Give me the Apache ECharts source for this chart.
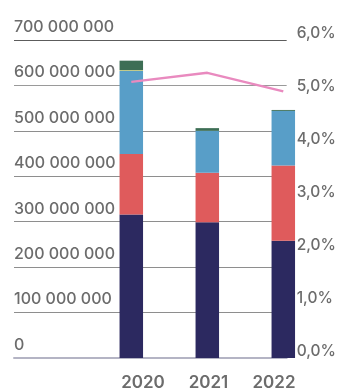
<!DOCTYPE html>
<html>
<head>
<meta charset="utf-8">
<script src="https://cdn.jsdelivr.net/npm/echarts@6/dist/echarts.min.js"></script>
<style>
  html, body { margin: 0; padding: 0; background: #ffffff; }
  #chart { width: 339px; height: 391px; }
</style>
</head>
<body>
<div id="chart"></div>
<script>
// Years shown on the category axis
const years = ['2020', '2021', '2022'];

// Stacked bar components (absolute amounts)
const segNavy   = [316000000, 299000000, 258000000];
const segRed    = [133000000, 109000000, 166000000];
const segBlue   = [183000000,  92000000, 120000000];
const segYellow = [  1500000,         0,         0];
const segGreen  = [ 21000000,   6000000,   2000000];

// Rate line, in percent (right axis)
const ratePct = [5.21, 5.38, 5.03];

// Axis ticks
const leftTicks  = [0, 100000000, 200000000, 300000000, 400000000, 500000000, 600000000, 700000000];
const rightTicks = [0, 1, 2, 3, 4, 5, 6];

const FONT = 'Inter';
const LABEL_GREY = '#6c6c6c';

const fmtAmount = v => String(Math.round(v)).replace(/\B(?=(\d{3})+(?!\d))/g, ' ');
const fmtPct = v => v.toFixed(1).replace('.', ',') + '%';

const leftMax = leftTicks[leftTicks.length - 1];
const rightMax = rightTicks[rightTicks.length - 1];

const chart = echarts.init(document.getElementById('chart'), null, { renderer: 'canvas' });

const gridV = { top: 40, bottom: 33 };

const barSeries = (name, data, color) => ({
  name, type: 'bar', stack: 'total', data,
  xAxisIndex: 1, yAxisIndex: 2,
  barWidth: 23.5,
  itemStyle: { color },
  emphasis: { disabled: true }
});

chart.setOption({
  animation: false,
  grid: [
    // Frame for the value axes and horizontal rules
    { left: 14, right: 44, top: gridV.top, bottom: gridV.bottom },
    // Bars and line
    { left: 93.3, right: 17.7, top: gridV.top, bottom: gridV.bottom },
    // Year labels
    { left: 110.25, right: 32.25, top: gridV.top, bottom: gridV.bottom }
  ],
  xAxis: [
    {
      gridIndex: 0, type: 'value', min: 0, max: 1, show: true,
      axisLine: { show: true, onZero: false, lineStyle: { color: '#b4b4c4', width: 2 } },
      axisTick: { show: false }, axisLabel: { show: false }, splitLine: { show: false }
    },
    {
      gridIndex: 1, type: 'category', data: years, boundaryGap: true,
      axisLine: { show: false }, axisTick: { show: false }, axisLabel: { show: false }
    },
    {
      gridIndex: 2, type: 'category', data: years, boundaryGap: true,
      axisLine: { show: false }, axisTick: { show: false },
      axisLabel: {
        show: true, margin: 17, color: LABEL_GREY,
        fontFamily: FONT, fontSize: 17, fontWeight: 600
      }
    }
  ],
  yAxis: [
    {
      gridIndex: 0, type: 'value', position: 'left',
      min: 0, max: leftMax, interval: 100000000,
      axisLine: { show: false }, axisTick: { show: false },
      axisLabel: {
        inside: true, margin: 0, color: LABEL_GREY,
        fontFamily: FONT, fontSize: 16, fontWeight: 500,
        verticalAlign: 'bottom', padding: [0, 0, 5, 0],
        formatter: fmtAmount
      },
      splitLine: {
        show: true,
        lineStyle: {
          width: 1,
          color: ['rgba(0,0,0,0)', '#8e8e8e', '#8e8e8e', '#8e8e8e', '#8e8e8e', '#8e8e8e', '#9a9a9a', '#5c5c5c']
        }
      }
    },
    {
      gridIndex: 0, type: 'value', position: 'right',
      min: 0, max: rightMax, interval: 1,
      axisLine: { show: false }, axisTick: { show: false }, splitLine: { show: false },
      axisLabel: {
        margin: 10, color: LABEL_GREY,
        fontFamily: FONT, fontSize: 15.5, fontWeight: 500,
        verticalAlign: 'bottom', lineHeight: 14,
        formatter: fmtPct
      }
    },
    {
      gridIndex: 1, type: 'value', min: 0, max: leftMax, show: false
    },
    {
      gridIndex: 1, type: 'value', min: 0, max: rightMax, show: false
    },
    {
      gridIndex: 2, type: 'value', min: 0, max: 1, show: false
    }
  ],
  series: [
    barSeries('navy', segNavy, '#2c2960'),
    barSeries('red', segRed, '#df5b5c'),
    barSeries('blue', segBlue, '#589ec8'),
    barSeries('yellow', segYellow, '#d9d46a'),
    barSeries('green', segGreen, '#3d6e55'),
    {
      name: 'rate', type: 'line', data: ratePct,
      xAxisIndex: 1, yAxisIndex: 3,
      symbol: 'none', smooth: false,
      lineStyle: { color: '#e98abf', width: 2.5 },
      z: 5
    }
  ]
});
</script>
</body>
</html>
